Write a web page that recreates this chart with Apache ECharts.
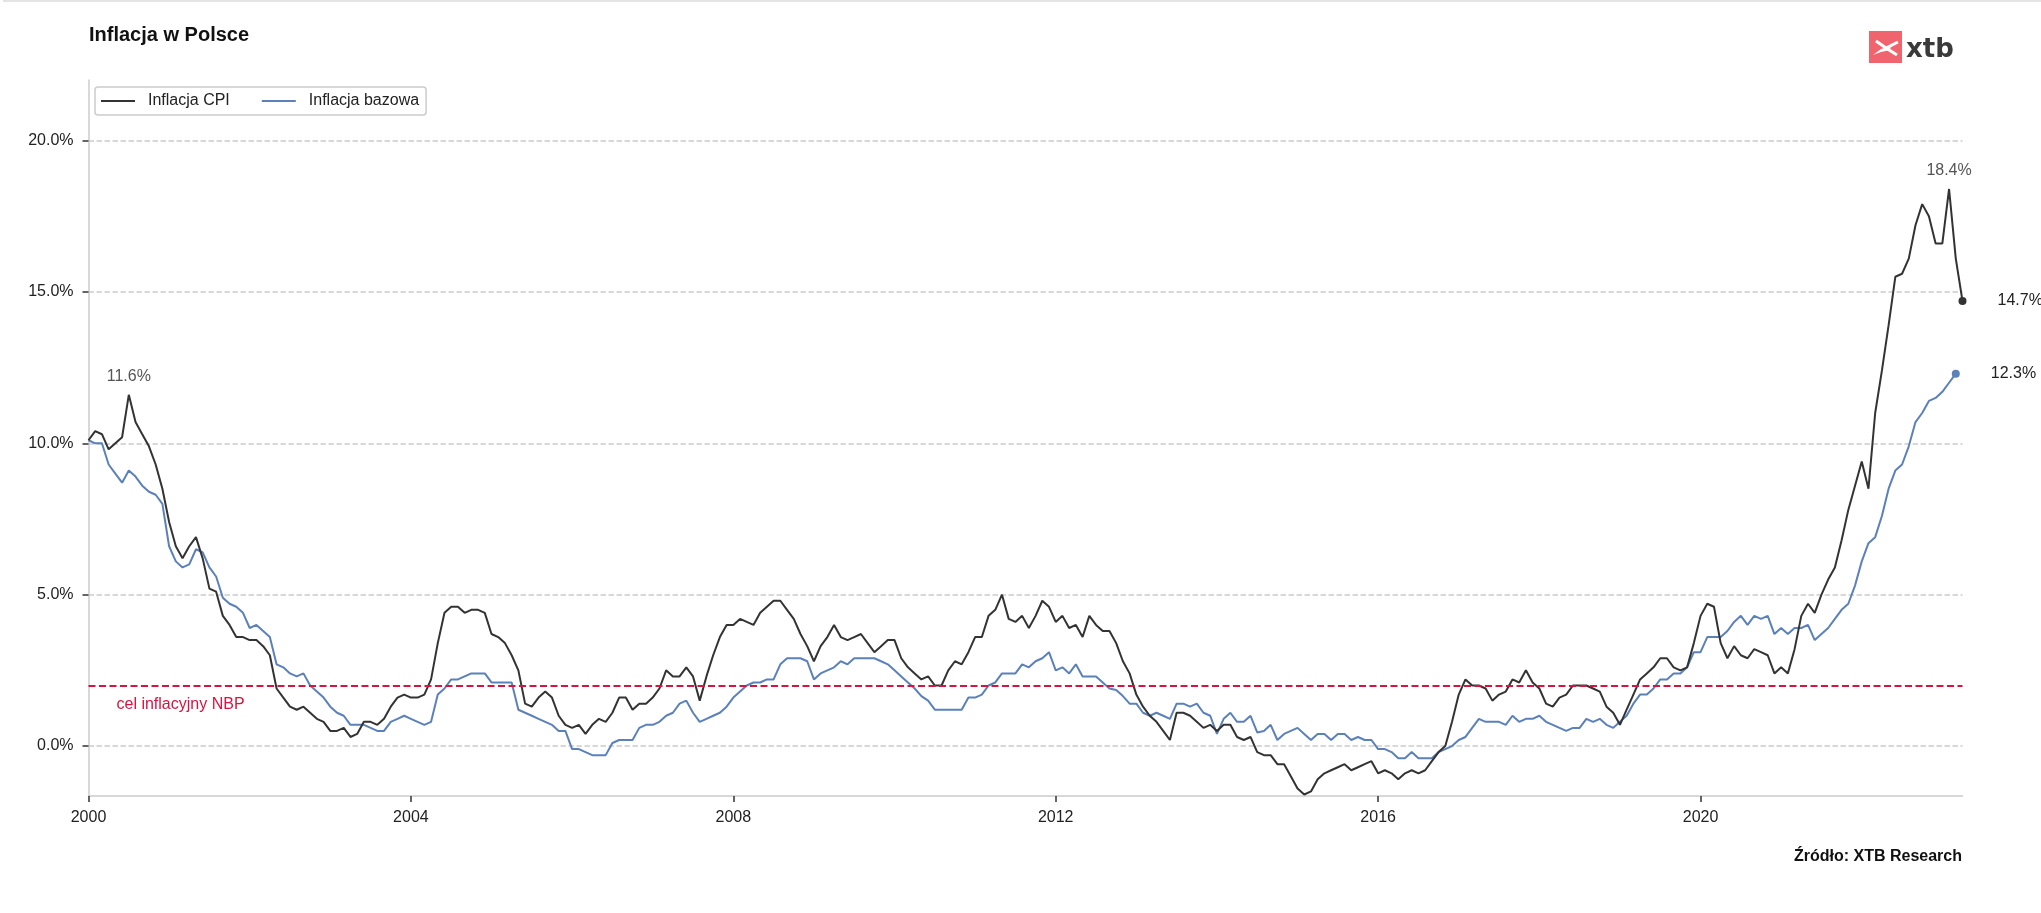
<!DOCTYPE html>
<html>
<head>
<meta charset="utf-8">
<script src="https://cdn.jsdelivr.net/npm/echarts@6/dist/echarts.min.js"></script>
<style>
html,body{margin:0;padding:0;background:#ffffff;}
#chart{width:2041px;height:913px;}
</style>
</head>
<body>
<div id="chart"></div>
<script>
// ---------- DATA ----------
const startYear = 2000;           // first month: January 2000, monthly data
const seriesNames = ['Inflacja CPI', 'Inflacja bazowa'];
const cpi = [
  10.1,10.4,10.3,9.8,10.0,10.2,11.6,10.7,10.3,9.9,9.3,8.5,
  7.4,6.6,6.2,6.6,6.9,6.2,5.2,5.1,4.3,4.0,3.6,3.6,
  3.5,3.5,3.3,3.0,1.9,1.6,1.3,1.2,1.3,1.1,0.9,0.8,
  0.5,0.5,0.6,0.3,0.4,0.8,0.8,0.7,0.9,1.3,1.6,1.7,
  1.6,1.6,1.7,2.2,3.4,4.4,4.6,4.6,4.4,4.5,4.5,4.4,
  3.7,3.6,3.4,3.0,2.5,1.4,1.3,1.6,1.8,1.6,1.0,0.7,
  0.6,0.7,0.4,0.7,0.9,0.8,1.1,1.6,1.6,1.2,1.4,1.4,
  1.6,1.9,2.5,2.3,2.3,2.6,2.3,1.5,2.3,3.0,3.6,4.0,
  4.0,4.2,4.1,4.0,4.4,4.6,4.8,4.8,4.5,4.2,3.7,3.3,
  2.8,3.3,3.6,4.0,3.6,3.5,3.6,3.7,3.4,3.1,3.3,3.5,
  3.5,2.9,2.6,2.4,2.2,2.3,2.0,2.0,2.5,2.8,2.7,3.1,
  3.6,3.6,4.3,4.5,5.0,4.2,4.1,4.3,3.9,4.3,4.8,4.6,
  4.1,4.3,3.9,4.0,3.6,4.3,4.0,3.8,3.8,3.4,2.8,2.4,
  1.7,1.3,1.0,0.8,0.5,0.2,1.1,1.1,1.0,0.8,0.6,0.7,
  0.5,0.7,0.7,0.3,0.2,0.3,-0.2,-0.3,-0.3,-0.6,-0.6,-1.0,
  -1.4,-1.6,-1.5,-1.1,-0.9,-0.8,-0.7,-0.6,-0.8,-0.7,-0.6,-0.5,
  -0.9,-0.8,-0.9,-1.1,-0.9,-0.8,-0.9,-0.8,-0.5,-0.2,0.0,0.8,
  1.7,2.2,2.0,2.0,1.9,1.5,1.7,1.8,2.2,2.1,2.5,2.1,
  1.9,1.4,1.3,1.6,1.7,2.0,2.0,2.0,1.9,1.8,1.3,1.1,
  0.7,1.2,1.7,2.2,2.4,2.6,2.9,2.9,2.6,2.5,2.6,3.4,
  4.3,4.7,4.6,3.4,2.9,3.3,3.0,2.9,3.2,3.1,3.0,2.4,
  2.6,2.4,3.2,4.3,4.7,4.4,5.0,5.5,5.9,6.8,7.8,8.6,
  9.4,8.5,11.0,12.4,13.9,15.5,15.6,16.1,17.2,17.9,17.5,16.6,
  16.6,18.4,16.1,14.7
];
const core = [
  10.1,10.0,10.0,9.3,9.0,8.7,9.1,8.9,8.6,8.4,8.3,8.0,
  6.6,6.1,5.9,6.0,6.5,6.4,5.9,5.6,4.9,4.7,4.6,4.4,
  3.9,4.0,3.8,3.6,2.7,2.6,2.4,2.3,2.4,2.0,1.8,1.6,
  1.3,1.1,1.0,0.7,0.7,0.7,0.6,0.5,0.5,0.8,0.9,1.0,
  0.9,0.8,0.7,0.8,1.7,1.9,2.2,2.2,2.3,2.4,2.4,2.4,
  2.1,2.1,2.1,2.1,1.2,1.1,1.0,0.9,0.8,0.7,0.5,0.5,
  -0.1,-0.1,-0.2,-0.3,-0.3,-0.3,0.1,0.2,0.2,0.2,0.6,0.7,
  0.7,0.8,1.0,1.1,1.4,1.5,1.1,0.8,0.9,1.0,1.1,1.3,
  1.6,1.8,2.0,2.1,2.1,2.2,2.2,2.7,2.9,2.9,2.9,2.8,
  2.2,2.4,2.5,2.6,2.8,2.7,2.9,2.9,2.9,2.9,2.8,2.7,
  2.5,2.3,2.1,1.9,1.65,1.5,1.2,1.2,1.2,1.2,1.2,1.6,
  1.6,1.7,2.0,2.1,2.4,2.4,2.4,2.7,2.6,2.8,2.9,3.1,
  2.5,2.6,2.4,2.7,2.3,2.3,2.3,2.1,1.9,1.85,1.65,1.4,
  1.4,1.1,1.0,1.1,1.0,0.9,1.4,1.4,1.3,1.4,1.1,1.0,
  0.4,0.9,1.1,0.8,0.8,1.0,0.45,0.5,0.7,0.2,0.4,0.5,
  0.6,0.4,0.2,0.4,0.4,0.2,0.4,0.4,0.2,0.3,0.2,0.2,
  -0.1,-0.1,-0.2,-0.4,-0.4,-0.2,-0.4,-0.4,-0.4,-0.2,-0.1,0.0,
  0.2,0.3,0.6,0.9,0.8,0.8,0.8,0.7,1.0,0.8,0.9,0.9,
  1.0,0.8,0.7,0.6,0.5,0.6,0.6,0.9,0.8,0.9,0.7,0.6,
  0.8,1.0,1.4,1.7,1.7,1.9,2.2,2.2,2.4,2.4,2.6,3.1,
  3.1,3.6,3.6,3.6,3.8,4.1,4.3,4.0,4.3,4.2,4.3,3.7,
  3.9,3.7,3.9,3.9,4.0,3.5,3.7,3.9,4.2,4.5,4.7,5.3,
  6.1,6.7,6.9,7.6,8.5,9.1,9.3,9.9,10.7,11.0,11.4,11.5,
  11.7,12.0,12.3
];
const yTicks = [0, 5, 10, 15, 20];
const xTicks = [2000, 2004, 2008, 2012, 2016, 2020];
const targetValue = 2.0;
const targetLabel = 'cel inflacyjny NBP';
const titleText = 'Inflacja w Polsce';
const sourceText = 'Źródło: XTB Research';

// ---------- BUILD ----------
const F = '"Liberation Sans", Arial, Helvetica, sans-serif';
const CPI_COLOR = '#333333';
const CORE_COLOR = '#5b80ba';
const RED = '#d7143f';
const xOf = i => startYear + i / 12;
const toPairs = arr => arr.map((v, i) => [xOf(i), v]);
const pct = v => v.toFixed(1) + '%';

function argmax(arr, from, to) {
  let best = from;
  for (let i = from; i < to; i++) if (arr[i] > arr[best]) best = i;
  return best;
}
const p1 = argmax(cpi, 0, 24);
const p2 = argmax(cpi, 0, cpi.length);
const lastCpi = cpi.length - 1;
const lastCore = core.length - 1;

const xMin = startYear;
const xMax = xOf(cpi.length - 1);

const chart = echarts.init(document.getElementById('chart'), null, {renderer: 'canvas'});
const peakLabel = {show: true, position: 'top', distance: 10, color: '#555555', fontSize: 16, fontFamily: F,
  formatter: p => pct(p.value)};
const endLabel = {show: true, position: 'right', distance: 31, color: '#222222', fontSize: 16, fontFamily: F,
  formatter: p => pct(p.value)};

chart.setOption({
  animation: false,
  backgroundColor: '#ffffff',
  title: {
    text: titleText, left: 84, top: 20,
    textStyle: {fontSize: 20, fontWeight: 'bold', color: '#111111', fontFamily: F}
  },
  legend: {
    data: seriesNames,
    left: 95, top: 87,
    icon: 'rect', itemWidth: 34, itemHeight: 2, itemGap: 32,
    padding: [6, 7, 6, 6],
    borderColor: '#cccccc', borderWidth: 1.5, borderRadius: 3,
    textStyle: {fontSize: 16, color: '#222222', fontFamily: F, padding: [0, 0, 0, 8]}
  },
  grid: {left: 88.5, top: 80, width: 1874, height: 716, containLabel: false},
  xAxis: {
    type: 'value', min: xMin, max: xMax, interval: 4,
    axisLine: {show: true, onZero: false, lineStyle: {color: '#cccccc', width: 1.5}},
    axisTick: {show: true, length: 6, customValues: xTicks, lineStyle: {color: '#333333', width: 1.5}},
    axisLabel: {show: true, customValues: xTicks, margin: 14,
      color: '#222222', fontSize: 16, fontFamily: F, formatter: v => String(Math.round(v))},
    splitLine: {show: false}
  },
  yAxis: {
    type: 'value', min: -1.65, max: 22,
    axisLine: {show: true, lineStyle: {color: '#cccccc', width: 1.5}},
    axisTick: {show: true, length: 6, customValues: yTicks, lineStyle: {color: '#333333', width: 1.5}},
    axisLabel: {show: true, customValues: yTicks, margin: 15,
      color: '#222222', fontSize: 16, fontFamily: F, formatter: v => pct(v)},
    splitLine: {show: true,
      lineStyle: {color: '#cccccc', type: [5.5, 2.5], width: 1.5}}
  },
  series: [
    {
      name: seriesNames[0], type: 'line', z: 4,
      data: toPairs(cpi),
      showSymbol: false, symbol: 'none',
      lineStyle: {color: CPI_COLOR, width: 2},
      itemStyle: {color: CPI_COLOR},
      emphasis: {disabled: true},
      markLine: {
        silent: true, symbol: ['none', 'none'],
        data: [{yAxis: targetValue}],
        lineStyle: {color: RED, type: [7, 3.5], width: 2},
        label: {show: true, position: 'insideStartBottom', distance: [28, 11],
          formatter: targetLabel, color: RED, fontSize: 16, fontFamily: F}
      },
      markPoint: {
        silent: true, symbol: 'circle',
        data: [
          {coord: [xOf(p1), cpi[p1]], value: cpi[p1], symbolSize: 0, label: peakLabel},
          {coord: [xOf(p2), cpi[p2]], value: cpi[p2], symbolSize: 0, label: peakLabel},
          {coord: [xOf(lastCpi), cpi[lastCpi]], value: cpi[lastCpi], symbolSize: 8,
            itemStyle: {color: CPI_COLOR}, label: endLabel}
        ]
      }
    },
    {
      name: seriesNames[1], type: 'line', z: 3,
      data: toPairs(core),
      showSymbol: false, symbol: 'none',
      lineStyle: {color: CORE_COLOR, width: 2},
      itemStyle: {color: CORE_COLOR},
      emphasis: {disabled: true},
      markPoint: {
        silent: true, symbol: 'circle',
        data: [
          {coord: [xOf(lastCore), core[lastCore]], value: core[lastCore], symbolSize: 8,
            itemStyle: {color: CORE_COLOR}, label: endLabel}
        ]
      }
    }
  ],
  graphic: [
    {type: 'line', silent: true, shape: {x1: 3, y1: 1, x2: 2041, y2: 1},
      style: {stroke: '#e4e4e4', lineWidth: 2}},
    {type: 'text', right: 79, top: 849, silent: true,
      style: {text: sourceText, font: 'bold 16px ' + F, fill: '#111111'}},
    {type: 'group', left: 1869, top: 31, silent: true, children: [
      {type: 'rect', shape: {x: 0, y: 0, width: 33, height: 32}, style: {fill: '#f0646e'}},
      {type: 'polyline', shape: {points: [[7, 10], [17, 17], [29, 11]]},
        style: {stroke: '#ffffff', lineWidth: 3, fill: null}},
      {type: 'polyline', shape: {points: [[17, 17], [28, 24]]},
        style: {stroke: '#ffffff', lineWidth: 3, fill: null}},
      {type: 'polygon', shape: {points: [[4, 24], [12, 18], [22, 15], [21, 19], [12, 21]]},
        style: {fill: '#ffffff'}},
      {type: 'text', x: 37, y: 19, style: {text: 'xtb', font: 'bold 26px "DejaVu Sans", sans-serif',
        fill: '#3a3a3a', verticalAlign: 'middle'}}
    ]}
  ]
});
</script>
</body>
</html>
